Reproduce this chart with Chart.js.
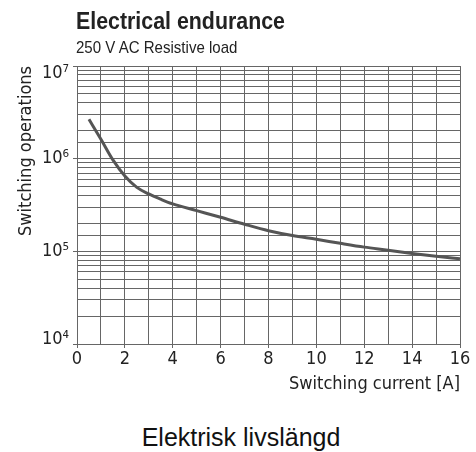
<!DOCTYPE html>
<html>
<head>
<meta charset="utf-8">
<script src="https://cdn.jsdelivr.net/npm/chart.js@4.4.1/dist/chart.umd.min.js"></script>
<style>
body{margin:0;background:#fff;}
#wrap{position:relative;width:476px;height:452px;overflow:hidden;}
#myChart{position:absolute;left:0;top:0;}
.txt{position:absolute;white-space:nowrap;color:#222;line-height:1;}
.head{font-family:"Liberation Sans",Arial,sans-serif;transform-origin:0 0;}
#title{left:76px;top:9px;font-size:24px;font-weight:bold;transform:scaleX(0.89);}
#sub{left:76px;top:39px;font-size:17px;transform:scaleX(0.885);}
#caption{left:3px;width:476px;top:425px;text-align:center;font-family:"Liberation Sans",Arial,sans-serif;font-size:25px;color:#111;}
</style>
</head>
<body>
<div id="wrap">
  <canvas id="myChart" width="476" height="400"></canvas>
  <div id="title" class="txt head">Electrical endurance</div>
  <div id="sub" class="txt head">250 V AC Resistive load</div>
  <div id="caption" class="txt">Elektrisk livslängd</div>
</div>
<script>
// switching current [A] vs switching operations
const current = [0.5, 1, 1.5, 2, 2.5, 3, 3.5, 4, 5, 6, 7, 8, 9, 10, 11, 12, 13, 14, 15, 16];
const operations = [2.66e6, 1.62e6, 9.7e5, 6.5e5, 4.9e5, 4.16e5, 3.65e5, 3.25e5, 2.75e5, 2.33e5, 1.96e5, 1.67e5, 1.48e5, 1.35e5, 1.22e5, 1.11e5, 1.03e5, 9.5e4, 8.85e4, 8.3e4];

const yMajors = [1e4, 1e5, 1e6, 1e7];
const yLabels = ["10\u2074", "10\u2075", "10\u2076", "10\u2077"];
const xLabelStep = 2;

const narrow = '"DejaVu Sans Condensed", "Liberation Sans Narrow", sans-serif';
const gridColor = "#666";

const points = current.map((c, i) => ({ x: c, y: operations[i] }));

const config = {
  type: "line",
  data: {
    datasets: [{
      label: "Electrical endurance",
      data: points,
      borderColor: "#555",
      borderWidth: 3,
      pointRadius: 0,
      fill: false,
      cubicInterpolationMode: "monotone"
    }]
  },
  options: {
    responsive: false,
    animation: false,
    layout: { padding: { top: 66, right: 16, left: 0, bottom: 0 } },
    plugins: { legend: { display: false }, tooltip: { enabled: false } },
    scales: {
      x: {
        type: "linear",
        min: 0,
        max: 16,
        afterFit: (scale) => { scale.height = 56; },
        grid: {
          color: gridColor,
          lineWidth: 1,
          tickLength: 4,
          tickColor: (ctx) => (ctx.tick && ctx.tick.value % xLabelStep === 0 ? gridColor : "rgba(0,0,0,0)")
        },
        border: { color: gridColor, width: 1 },
        ticks: {
          stepSize: 1,
          autoSkip: false,
          maxRotation: 0,
          padding: 1,
          color: "#222",
          font: { family: narrow, size: 18 },
          callback: (v) => (v % xLabelStep === 0 ? String(v) : "")
        },
        title: {
          display: true,
          text: "Switching current [A]",
          align: "end",
          color: "#222",
          font: { family: narrow, size: 18 },
          padding: { top: 0, bottom: 5 }
        }
      },
      y: {
        type: "logarithmic",
        min: 1e4,
        max: 1e7,
        afterFit: (scale) => { scale.width = 77; },
        grid: {
          color: gridColor,
          lineWidth: 1,
          tickLength: 4,
          tickColor: (ctx) => (ctx.tick && yMajors.includes(ctx.tick.value) ? gridColor : "rgba(0,0,0,0)")
        },
        border: { color: gridColor, width: 1 },
        ticks: {
          autoSkip: false,
          padding: 4,
          color: "#222",
          // the end labels sit inside the plot, like the original
          font: (ctx) => {
            const v = ctx.tick ? ctx.tick.value : 0;
            if (v === 1e7) return { family: narrow, size: 18, lineHeight: "15px" };
            if (v === 1e4) return { family: narrow, size: 18, lineHeight: "10px" };
            return { family: narrow, size: 18 };
          },
          callback: (v) => {
            const i = yMajors.indexOf(v);
            if (i < 0) return "";
            if (v === 1e7) return ["", yLabels[i]];
            if (v === 1e4) return [yLabels[i], ""];
            return yLabels[i];
          }
        },
        title: {
          display: true,
          text: "Switching operations",
          align: "end",
          color: "#222",
          font: { family: narrow, size: 18 },
          padding: { top: 16, bottom: 0 }
        }
      }
    }
  }
};

new Chart(document.getElementById("myChart"), config);
</script>
</body>
</html>
